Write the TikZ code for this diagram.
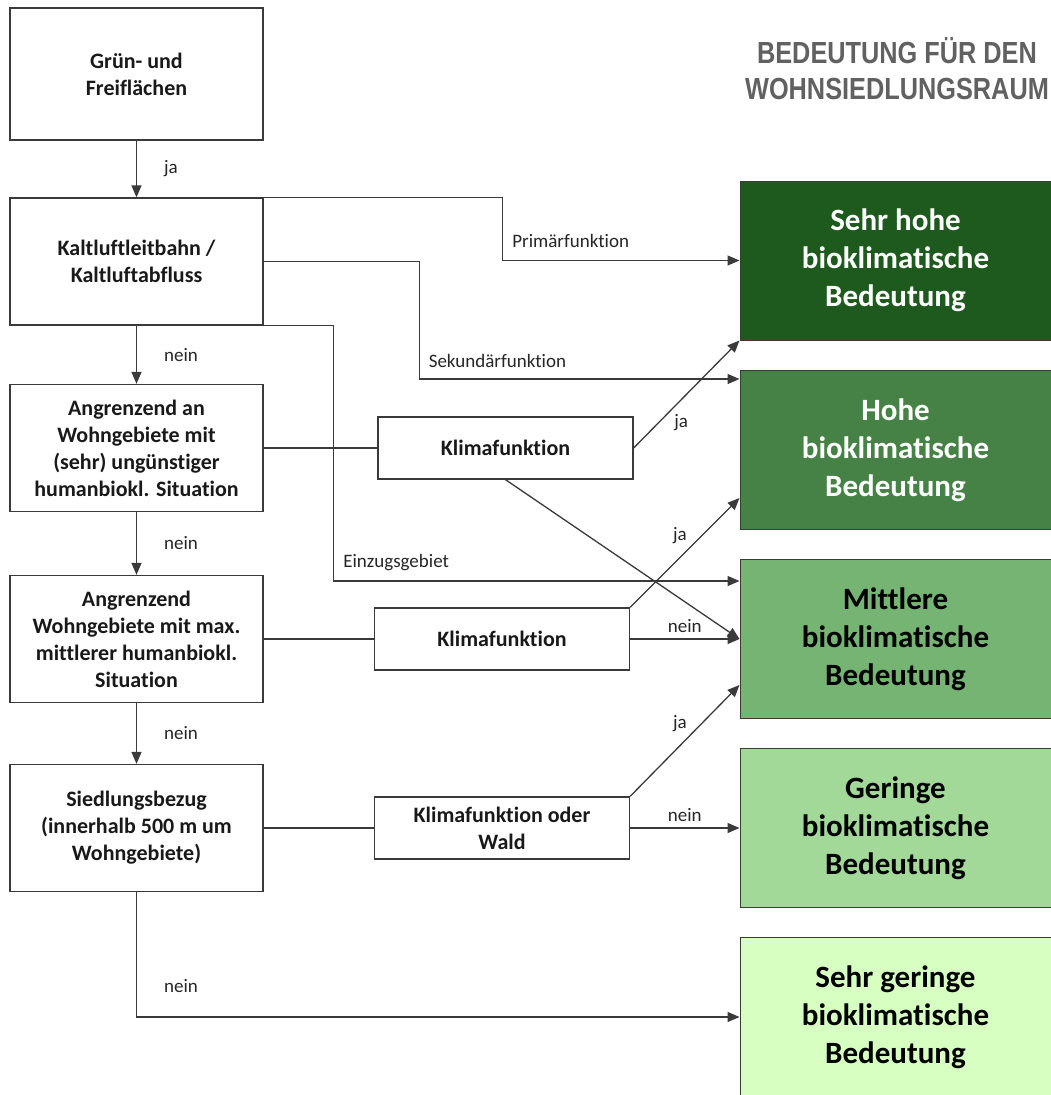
\documentclass[tikz,border=0pt]{standalone}
\usepackage{fontspec}
\setmainfont{Carlito}[RawFeature={-liga;-clig;-calt}]
\newfontfamily\titlefont{Liberation Sans}
\usepackage{xcolor}
\usepackage{tikz}
\usetikzlibrary{arrows.meta,positioning}

\definecolor{stufeA}{HTML}{1E5A1E}
\definecolor{stufeB}{HTML}{468245}
\definecolor{stufeC}{HTML}{75B472}
\definecolor{stufeD}{HTML}{A2D898}
\definecolor{stufeE}{HTML}{D6FFC2}
\definecolor{linie}{HTML}{3A3A3A}

\begin{document}
\begin{tikzpicture}[x=1pt, y=-1pt,
  frage/.style={draw=linie, line width=1.3pt, minimum width=253pt,
    minimum height=127pt, align=center, inner sep=2pt,
    font=\fontsize{22}{27}\selectfont\bfseries, text=black!90},
  pruef/.style={frage, minimum width=255pt, minimum height=62pt},
  stufe/.style={draw=linie, line width=1pt, minimum width=311pt,
    minimum height=159pt, align=center,
    font=\fontsize{31}{38}\selectfont\bfseries},
  arr/.style={-{Triangle[length=12pt,width=10pt]}, line width=1.3pt, color=linie},
  verb/.style={line width=1.3pt, color=linie},
  lbl/.style={font=\fontsize{19}{22}\selectfont, text=black!85, inner sep=3pt}
]
\path[use as bounding box, fill=white] (0,0) rectangle (1051,1095);

% Left column: decision boxes
\node[frage, minimum height=132pt] (gruen) at (136.5,74) {Grün- und\\Freiflächen};
\node[frage] (kaltluft) at (136.5,261.5) {Kaltluftleitbahn /\\Kaltluftabfluss};
\node[frage] (angrenz1) at (136.5,448) {Angrenzend an\\Wohngebiete mit\\(sehr) ungünstiger\\humanbiokl. Situation};
\node[frage] (angrenz2) at (136.5,639) {Angrenzend\\Wohngebiete mit max.\\mittlerer humanbiokl.\\Situation};
\node[frage] (siedlung) at (136.5,828) {Siedlungsbezug\\(innerhalb 500 m um\\Wohngebiete)};

% Middle column: climate checks
\node[pruef] (klima1) at (505.5,448) {Klimafunktion};
\node[pruef] (klima2) at (502,639) {Klimafunktion};
\node[pruef] (klima3) at (502,828) {Klimafunktion oder\\Wald};

% Right column: result classes
\node[stufe, fill=stufeA, text=white] (sehrhoch) at (895.5,260.5) {Sehr hohe\\bioklimatische\\Bedeutung};
\node[stufe, fill=stufeB, text=white] (hoch) at (895.5,450) {Hohe\\bioklimatische\\Bedeutung};
\node[stufe, fill=stufeC] (mittel) at (895.5,639) {Mittlere\\bioklimatische\\Bedeutung};
\node[stufe, fill=stufeD] (gering) at (895.5,828) {Geringe\\bioklimatische\\Bedeutung};
\node[stufe, fill=stufeE] (sehrgering) at (895.5,1017) {Sehr geringe\\bioklimatische\\Bedeutung};

% Heading
\node[font=\titlefont\bfseries\fontsize{30.5}{35.7}\selectfont, text=black!62, align=center] (titel) at (897,68.5)
  {\scalebox{0.83}[1]{BEDEUTUNG FÜR DEN}\\\scalebox{0.83}[1]{WOHNSIEDLUNGSRAUM}};

% Main chain
\draw[arr] (gruen) -- node[lbl, right=24pt]{ja} (kaltluft);
\draw[arr] (kaltluft) -- node[lbl, right=24pt]{nein} (angrenz1);
\draw[arr] (angrenz1) -- node[lbl, right=24pt]{nein} (angrenz2);
\draw[arr] (angrenz2) -- node[lbl, right=24pt]{nein} (siedlung);
\draw[arr] (siedlung) |- node[lbl, pos=0.375, right=24pt]{nein} (sehrgering);

% Cold air branches
\draw[arr] (kaltluft.north east) -- ++(239,0)
  |- node[lbl, pos=0.5, anchor=south west, xshift=6pt, yshift=9pt]{Primärfunktion} (sehrhoch.west);
\draw[arr] (kaltluft.east) -- ++(155.5,0)
  |- node[lbl, pos=0.5, anchor=south west, xshift=6pt, yshift=8pt]{Sekundärfunktion} ([yshift=-9pt]hoch.north west);
\draw[arr] (kaltluft.south east) -- ++(70,0)
  |- node[lbl, pos=0.5, anchor=south west, xshift=6pt, yshift=7pt]{Einzugsgebiet} ([yshift=-22pt]mittel.north west);

% Climate checks
\draw[verb] (angrenz1) -- (klima1);
\draw[verb] (angrenz2) -- (klima2);
\draw[verb] (siedlung) -- (klima3);
\draw[arr] (klima1.east) -- node[lbl, pos=0.35, below right]{ja} (sehrhoch.south west);
\draw[arr] (klima1.south) -- (mittel.west);
\draw[arr] (klima2.north east) -- node[lbl, pos=0.55, above left]{ja} ([yshift=32pt]hoch.south west);
\draw[arr] (klima2.east) -- node[lbl, above=3pt]{nein} (mittel.west);
\draw[arr] (klima3.north east) -- node[lbl, pos=0.55, above left]{ja} ([yshift=34pt]mittel.south west);
\draw[arr] (klima3.east) -- node[lbl, above=3pt]{nein} (gering.west);
\end{tikzpicture}
\end{document}
